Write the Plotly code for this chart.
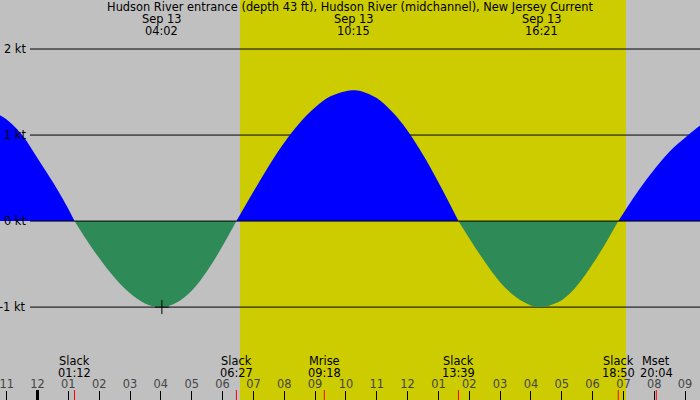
import plotly.graph_objects as go

# Hudson River entrance current, Sep 13 (knots, + = flood, - = ebb)
TITLE = "Hudson River entrance (depth 43 ft), Hudson River (midchannel), New Jersey Current"
DAY = "2024-09-13"

times = [
    "2024-09-12 22:47", "2024-09-12 23:00", "2024-09-12 23:30",
    "2024-09-13 00:00", "2024-09-13 00:30", "2024-09-13 01:00", "2024-09-13 01:12",
    "2024-09-13 01:30", "2024-09-13 02:00", "2024-09-13 02:30", "2024-09-13 03:00",
    "2024-09-13 03:30", "2024-09-13 04:02", "2024-09-13 04:30", "2024-09-13 05:00",
    "2024-09-13 05:30", "2024-09-13 06:00", "2024-09-13 06:27",
    "2024-09-13 07:00", "2024-09-13 07:30", "2024-09-13 08:00", "2024-09-13 08:30",
    "2024-09-13 09:00", "2024-09-13 09:30", "2024-09-13 10:00", "2024-09-13 10:15",
    "2024-09-13 10:30", "2024-09-13 11:00", "2024-09-13 11:30", "2024-09-13 12:00",
    "2024-09-13 12:30", "2024-09-13 13:00", "2024-09-13 13:39",
    "2024-09-13 14:00", "2024-09-13 14:30", "2024-09-13 15:00", "2024-09-13 15:30",
    "2024-09-13 16:00", "2024-09-13 16:21", "2024-09-13 17:00",
    "2024-09-13 17:30", "2024-09-13 18:00", "2024-09-13 18:30", "2024-09-13 18:50",
    "2024-09-13 19:00", "2024-09-13 19:30", "2024-09-13 20:00", "2024-09-13 20:30",
    "2024-09-13 21:00", "2024-09-13 21:29",
]
speed_kt = [
    1.23, 1.18, 1.00,
    0.73, 0.45, 0.14, 0.0,
    -0.17, -0.43, -0.66, -0.84,
    -0.96, -1.00, -0.95, -0.81,
    -0.58, -0.29, 0.0,
    0.34, 0.64, 0.91, 1.14,
    1.32, 1.45, 1.51, 1.52,
    1.51, 1.43, 1.27, 1.05,
    0.77, 0.45, 0.0,
    -0.20, -0.47, -0.71, -0.88,
    -0.98, -1.00, -0.92,
    -0.75, -0.50, -0.21, 0.0,
    0.09, 0.36, 0.60, 0.81,
    0.97, 1.11,
]

# max / min current times shown along the top
peak_times = ["04:02", "10:15", "16:21"]

# events along the bottom
event_names = ["Slack", "Slack", "Mrise", "Slack", "Slack", "Mset"]
event_times = ["01:12", "06:27", "09:18", "13:39", "18:50", "20:04"]

sunrise = "06:34"
sunset = "19:05"
marker_time = "04:02"
marker_kt = -1.0

grid_levels = [2, 1, 0, -1]
x_range = ["2024-09-12 22:47", "2024-09-13 21:29"]
y_range = [-2.08, 2.57]

W, H = 700, 400
FONT = dict(family="DejaVu Sans", size=11.4, color="black")


def at(hm):
    return f"{DAY} {hm}"


def py(px):
    # pixel row -> paper y
    return 1 - px / H


flood = [v if v >= 0 else None for v in speed_kt]
ebb = [v if v <= 0 else None for v in speed_kt]

fig = go.Figure()
fig.add_trace(go.Scatter(x=times, y=flood, mode="lines", fill="tozeroy",
                         fillcolor="#0000ff",
                         line=dict(width=0, shape="spline", color="#0000ff"),
                         hoverinfo="skip"))
fig.add_trace(go.Scatter(x=times, y=ebb, mode="lines", fill="tozeroy",
                         fillcolor="#2e8b57",
                         line=dict(width=0, shape="spline", color="#2e8b57"),
                         hoverinfo="skip"))
fig.add_trace(go.Scatter(x=[at(marker_time)], y=[marker_kt], mode="markers",
                         marker=dict(symbol="cross-thin", size=10,
                                     line=dict(color="black", width=1)),
                         hoverinfo="skip"))

# daylight band
fig.add_shape(type="rect", xref="x", yref="paper", x0=at(sunrise), x1=at(sunset),
              y0=0, y1=1, fillcolor="#cccc00", line_width=0, layer="below")

# knot lines and labels
for lvl in grid_levels:
    fig.add_shape(type="line", xref="paper", yref="y", x0=30 / W, x1=1, y0=lvl, y1=lvl,
                  line=dict(color="black", width=1),
                  layer="above" if lvl == 0 else "below")
    fig.add_annotation(x=28 / W, xref="paper", y=lvl, yref="y", text=f"{lvl} kt",
                       xanchor="right", yanchor="middle", showarrow=False, font=FONT)

# midnight tick
fig.add_shape(type="line", xref="x", yref="paper", x0=at("00:00"), x1=at("00:00"),
              y0=0, y1=10 / H, line=dict(color="black", width=3))

# event ticks and labels
for name, t in zip(event_names, event_times):
    fig.add_shape(type="line", xref="x", yref="paper", x0=at(t), x1=at(t),
                  y0=0, y1=10 / H, line=dict(color="red", width=1))
    fig.add_annotation(x=at(t), y=py(361), yref="paper", text=name, showarrow=False,
                       yanchor="middle", font=FONT)
    fig.add_annotation(x=at(t), y=py(373), yref="paper", text=t, showarrow=False,
                       yanchor="middle", font=FONT)

for t in peak_times:
    fig.add_annotation(x=at(t), y=py(19), yref="paper", text="Sep 13", showarrow=False,
                       yanchor="middle", font=FONT)
    fig.add_annotation(x=at(t), y=py(31), yref="paper", text=t, showarrow=False,
                       yanchor="middle", font=FONT)

fig.update_layout(
    width=W, height=H,
    margin=dict(l=0, r=0, t=0, b=0, pad=0, autoexpand=False),
    paper_bgcolor="#c0c0c0", plot_bgcolor="#c0c0c0",
    showlegend=False,
    font=FONT,
    title=dict(text=TITLE, x=0.5, xanchor="center", y=py(7), yanchor="middle",
               yref="container", font=FONT),
    xaxis=dict(type="date", range=x_range, dtick=3600000, tick0=at("00:00"),
               tickformat="%I", ticks="inside", ticklen=9, tickwidth=1,
               tickcolor="black", ticklabelposition="inside",
               ticklabeloverflow="allow", showgrid=False,
               zeroline=False, showline=False, fixedrange=True),
    yaxis=dict(range=y_range, showticklabels=False, showgrid=False,
               zeroline=False, showline=False, fixedrange=True),
)

# drop the browser's default 8px page margin
fig.write_html("out.html", config={"displayModeBar": False},
               post_script="document.body.style.margin = '0';")
